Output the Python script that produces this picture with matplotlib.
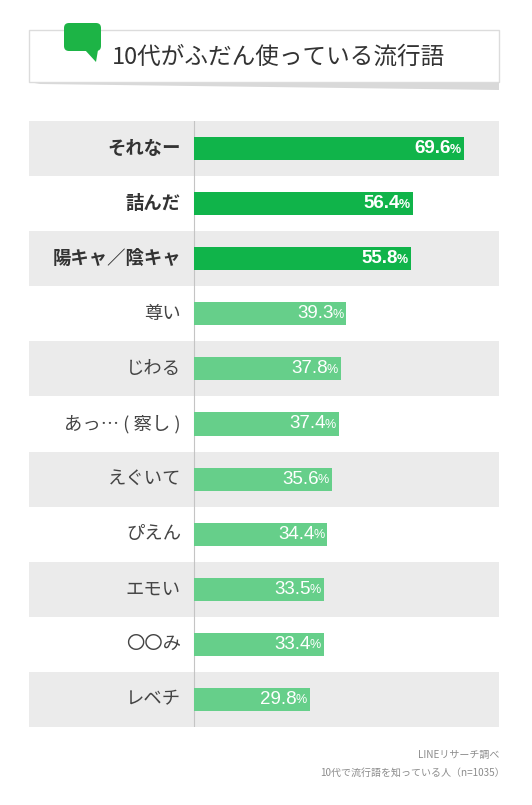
import matplotlib.pyplot as plt
from matplotlib.patches import FancyBboxPatch, Polygon, Rectangle

plt.rcParams['font.family'] = ['Noto Sans CJK JP', 'DejaVu Sans']

# データ
words = ['それなー', '詰んだ', '陽キャ／陰キャ', '尊い', 'じわる', 'あっ… ( 察し )',
         'えぐいて', 'ぴえん', 'エモい', '〇〇み', 'レベチ']
values = [69.6, 56.4, 55.8, 39.3, 37.8, 37.4, 35.6, 34.4, 33.5, 33.4, 29.8]
top_n = 3
title = '10代がふだん使っている流行語'
notes = ['LINEリサーチ調べ', '10代で流行語を知っている人（n=1035）']

dark_green = '#10b44a'
light_green = '#66cf8a'
band_gray = '#ebebeb'

W, H = 532, 805
fig = plt.figure(figsize=(W / 100, H / 100), dpi=100, facecolor='white')

# 背景用 (ピクセル座標)
bg = fig.add_axes([0, 0, 1, 1])
bg.set_xlim(0, W)
bg.set_ylim(H, 0)
bg.axis('off')

# タイトルボックスと影
bg.add_patch(Polygon([[29, 82], [499, 82], [499, 90], [40, 84]],
                     closed=True, facecolor='#d9d9d9', edgecolor='none'))
bg.add_patch(Rectangle((29, 30), 470, 52, facecolor='white',
                       edgecolor='#dcdcdc', linewidth=1.0))
# 吹き出し
bg.add_patch(FancyBboxPatch((64, 23), 37, 28, boxstyle='round,pad=0,rounding_size=5',
                            facecolor='#1db446', edgecolor='none'))
bg.add_patch(Polygon([[85, 50], [98, 50], [96, 62]], closed=True,
                     facecolor='#1db446', edgecolor='none'))
bg.text(112, 57, title, fontsize=17, color='#333333', va='center', ha='left')

bg.text(499, 755, notes[0], fontsize=7.2, color='#8c8c8c', ha='right', va='center')
bg.text(505, 773, notes[1], fontsize=7.2, color='#8c8c8c', ha='right', va='center')

# グラフ本体
px_per = 3.88
left_px, right_px, zero_px = 29, 499, 194
top_px, bot_px = 121, 727
ax = fig.add_axes([left_px / W, 1 - bot_px / H, (right_px - left_px) / W,
                   (bot_px - top_px) / H])
ax.set_xlim(-(zero_px - left_px) / px_per, (right_px - zero_px) / px_per)
ax.set_ylim(len(words) - 0.5, -0.5)
ax.axis('off')

for i in range(0, len(words), 2):
    ax.axhspan(i - 0.5, i + 0.5, color=band_gray, lw=0, zorder=0)
ax.axvline(0, color='#c4c4c4', lw=0.8, zorder=1)

for i, (w, v) in enumerate(zip(words, values)):
    top = i < top_n
    col = dark_green if top else light_green
    ax.barh(i, v, height=0.42, color=col, zorder=2)
    ax.text(-13 / px_per, i, w, ha='right', va='center', fontsize=13.2,
            fontweight='bold' if top else 'normal',
            color='#333333' if top else '#444444')
    weight = 'bold' if top else 'normal'
    ax.annotate('%', (v, i), xytext=(-3, -1), textcoords='offset pixels',
                ha='right', va='center', fontsize=9, color='white',
                family='Liberation Sans', fontweight=weight, zorder=3)
    ax.annotate('%.1f' % v, (v, i), xytext=(-13, 0), textcoords='offset pixels',
                ha='right', va='center', fontsize=13.5, color='white',
                family='Liberation Sans', fontweight=weight, zorder=3)

fig.savefig('out.png', dpi=100, facecolor='white')
